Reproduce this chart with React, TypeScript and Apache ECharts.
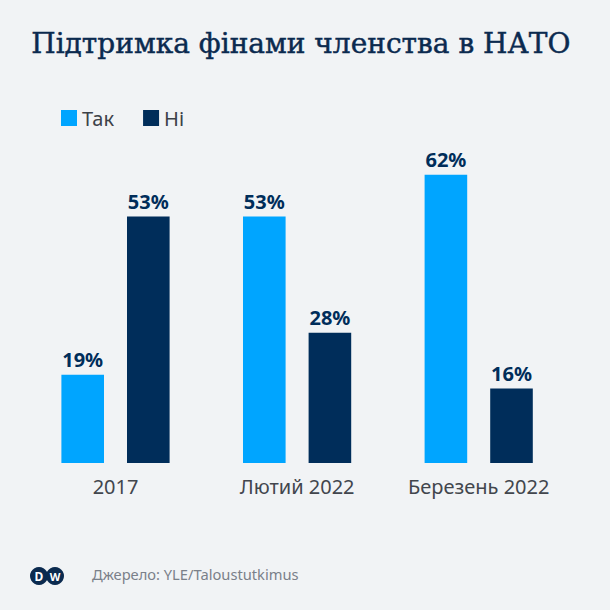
import React, { useEffect, useRef } from "react";
import * as echarts from "echarts";

const categories = ["2017", "Лютий 2022", "Березень 2022"];
const seriesNames = ["Так", "Ні"];
const yesValues = [19, 53, 62];
const noValues = [53, 28, 16];
const colors = ["#00a5ff", "#002d5a"];
const titleText = "Підтримка фінами членства в НАТО";
const sourceText = "Джерело: YLE/Taloustutkimus";

export default function App() {
  const ref = useRef<HTMLDivElement>(null);
  useEffect(() => {
    if (!ref.current) return;
    const chart = echarts.init(ref.current, undefined, { renderer: "svg" });
    const labelStyle = {
      show: true,
      position: "top",
      distance: 5,
      formatter: "{c}%",
      fontFamily: "Noto Sans",
      fontWeight: "bold",
      fontSize: 20,
      color: "#002d5a",
    };
    chart.setOption({
      animation: false,
      backgroundColor: "#f1f3f5",
      textStyle: { fontFamily: "Noto Sans" },
      legend: {
        left: 61,
        top: 108,
        padding: 0,
        itemWidth: 16,
        itemHeight: 16,
        itemGap: 29,
        icon: "rect",
        textStyle: { fontSize: 20, color: "#3c4148", fontFamily: "Noto Sans" },
        data: seriesNames,
      },
      grid: { left: 24.7, right: 40.5, top: 137.5, bottom: 147 },
      xAxis: {
        type: "category",
        data: categories,
        axisLine: { show: false },
        axisTick: { show: false },
        axisLabel: {
          interval: 0,
          fontSize: 20,
          color: "#42464d",
          margin: 13,
          fontFamily: "Noto Sans",
        },
      },
      yAxis: {
        type: "value",
        min: 0,
        max: 70,
        show: false,
        splitLine: { show: false },
      },
      series: [
        {
          name: seriesNames[0],
          type: "bar",
          data: yesValues,
          barWidth: 42.6,
          barGap: "54%",
          itemStyle: { color: colors[0] },
          label: labelStyle,
        },
        {
          name: seriesNames[1],
          type: "bar",
          data: noValues,
          barWidth: 42.6,
          barGap: "54%",
          itemStyle: { color: colors[1] },
          label: labelStyle,
        },
      ],
      graphic: [
        {
          type: "text",
          left: 31,
          top: 29,
          style: {
            text: titleText,
            fontFamily: "DejaVu Serif",
            fontSize: 28,
            fill: "#0b2a4f",
            stroke: "#0b2a4f",
            lineWidth: 0.45,
          },
        },
        {
          type: "group",
          left: 30,
          top: 567,
          children: [
            { type: "circle", shape: { cx: 9, cy: 9, r: 9 }, style: { fill: "#0b2a4f" } },
            { type: "circle", shape: { cx: 25, cy: 9, r: 9 }, style: { fill: "#0b2a4f" } },
            {
              type: "text",
              x: 9,
              y: 9,
              style: {
                text: "D",
                fontFamily: "Noto Sans",
                fontWeight: "bold",
                fontSize: 12,
                fill: "#ffffff",
                align: "center",
                verticalAlign: "middle",
              },
            },
            {
              type: "text",
              x: 25,
              y: 9,
              style: {
                text: "W",
                fontFamily: "Noto Sans",
                fontWeight: "bold",
                fontSize: 11,
                fill: "#ffffff",
                align: "center",
                verticalAlign: "middle",
              },
            },
          ],
        },
        {
          type: "text",
          left: 92,
          top: 566,
          style: {
            text: sourceText,
            fontFamily: "Noto Sans",
            fontSize: 14.7,
            fill: "#7a8089",
          },
        },
      ],
    });
    return () => chart.dispose();
  }, []);
  return (
    <div
      ref={ref}
      style={{ position: "absolute", left: 0, top: 0, width: 610, height: 610 }}
    />
  );
}
